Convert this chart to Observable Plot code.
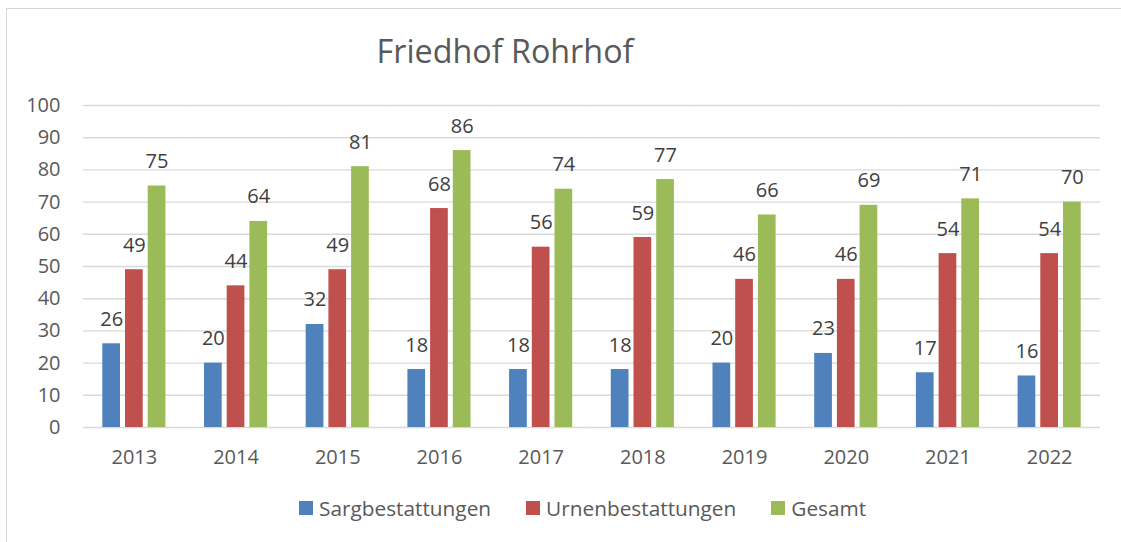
<!DOCTYPE html>
<html>
<head>
<meta charset="utf-8">
<script src="https://cdn.jsdelivr.net/npm/d3@7"></script>
<script src="https://cdn.jsdelivr.net/npm/@observablehq/plot@0.6"></script>
<style>
  html, body { margin: 0; padding: 0; background: #fff; }
  #wrap { position: relative; width: 1121px; height: 542px; overflow: hidden; font-family: "Open Sans", sans-serif; }
  #frame { position: absolute; left: 6px; top: 8px; width: 1200px; height: 600px; border-top: 1.5px solid #d9d9d9; border-left: 1.5px solid #d9d9d9; }
  #title { position: absolute; left: 0; width: 1010px; top: 30px; text-align: center; font-size: 32.3px; line-height: 40px; color: #595959; }
  #chart { position: absolute; left: 0; top: 90px; }
  #legend { position: absolute; left: 299px; top: 496px; display: flex; align-items: center; font-size: 20.8px; line-height: 24px; color: #595959; }
  .item { display: flex; align-items: center; margin-right: 35px; }
  .sw { width: 13.5px; height: 13.5px; margin-right: 6.5px; }
</style>
</head>
<body>
<div id="wrap">
  <div id="frame"></div>
  <div id="title">Friedhof Rohrhof</div>
  <div id="chart"></div>
  <div id="legend"></div>
</div>
<script>
const years = ["2013","2014","2015","2016","2017","2018","2019","2020","2021","2022"];
const sarg = [26,20,32,18,18,18,20,23,17,16];
const urnen = [49,44,49,68,56,59,46,46,54,54];
const gesamt = [75,64,81,86,74,77,66,69,71,70];
const seriesNames = ["Sargbestattungen","Urnenbestattungen","Gesamt"];
const colors = ["#4F81BD","#C0504D","#9BBB59"];
const yTicks = [0,10,20,30,40,50,60,70,80,90,100];

const seriesValues = [sarg, urnen, gesamt];
const data = years.flatMap((yr, i) => seriesValues.map((arr, j) => ({year: yr, series: seriesNames[j], value: arr[i]})));

const chart = Plot.plot({
  width: 1121,
  height: 390,
  marginTop: 15,
  marginBottom: 53,
  marginLeft: 83,
  marginRight: 21,
  style: {fontFamily: "'Open Sans', sans-serif", fontSize: "20px", color: "#595959", background: "transparent"},
  fx: {domain: years, padding: 0, round: false, label: null, axis: "bottom", tickSize: 0, tickPadding: 22},
  x: {domain: seriesNames, paddingInner: 0.22, paddingOuter: 0.85, round: false, axis: null},
  y: {domain: [0, 100], ticks: yTicks, label: null, tickSize: 0, tickPadding: 23},
  color: {domain: seriesNames, range: colors},
  marks: [
    Plot.ruleY(yTicks, {stroke: "#d9d9d9", strokeWidth: 1.4}),
    Plot.barY(data, {fx: "year", x: "series", y: "value", fill: "series"}),
    Plot.text(data, {fx: "year", x: "series", y: "value", text: d => String(d.value), dy: -18, lineAnchor: "bottom", fill: "#404040", fontSize: 20})
  ]
});
document.getElementById("chart").appendChild(chart);

const legend = document.getElementById("legend");
seriesNames.forEach((name, j) => {
  const item = document.createElement("div");
  item.className = "item";
  const sw = document.createElement("div");
  sw.className = "sw";
  sw.style.background = colors[j];
  const label = document.createElement("span");
  label.textContent = name;
  item.appendChild(sw);
  item.appendChild(label);
  legend.appendChild(item);
});
</script>
</body>
</html>
